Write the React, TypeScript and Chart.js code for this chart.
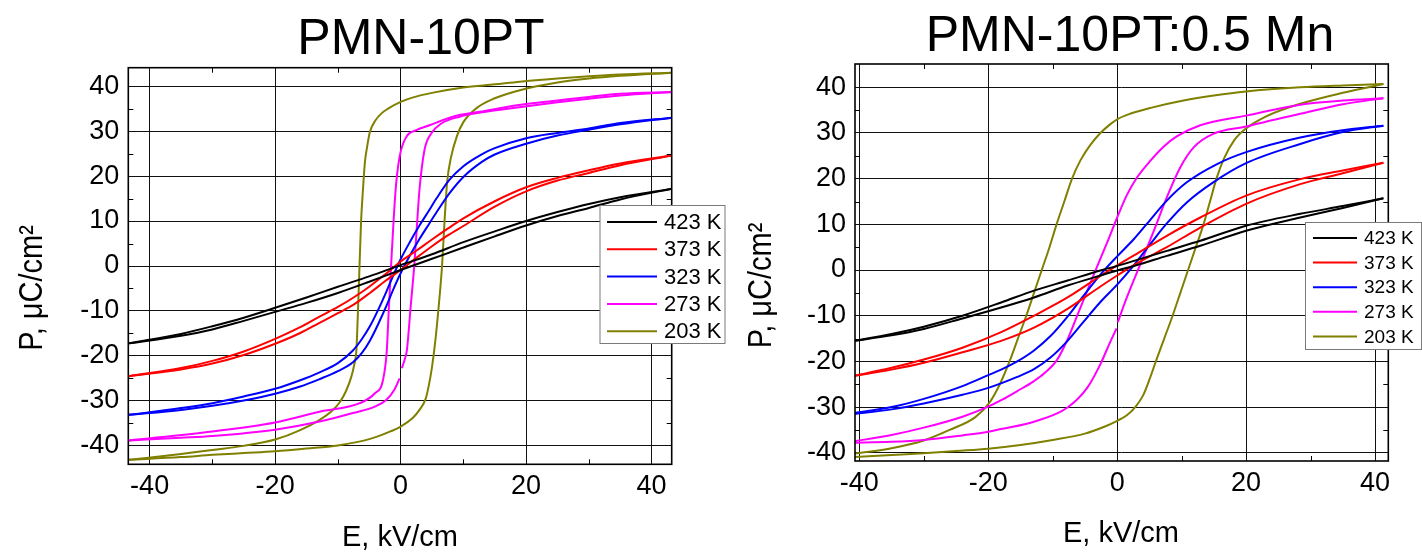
import React, { useEffect, useRef } from "react";
import { Chart, registerables } from "chart.js";

Chart.register(...registerables);

// ---------------- data ----------------
const temperatures = ["423 K", "373 K", "323 K", "273 K", "203 K"];
const loopColors = ["#000000", "#ff0000", "#0000ff", "#ff00ff", "#808000"];

const xTicks = [-40, -20, 0, 20, 40];
const yTicks = [-40, -30, -20, -10, 0, 10, 20, 30, 40];
const xMinorTicks = [-30, -10, 10, 30];
const yMinorTicks = [-35, -25, -15, -5, 5, 15, 25, 35];

type Pt = [number, number | null];

// PMN-10PT: each loop as its falling-field (Down) and rising-field (Up) branch, [E kV/cm, P µC/cm²]
const pmn423Down: Pt[] = [
  [-43.3, -17.2], [-35, -15.1], [-30, -13.4], [-25, -11.5], [-20, -9.3], [-15, -7.0], [-10, -4.6], [-5, -2.3],
  [0, 0.2], [5, 2.6], [10, 5.3], [15, 7.7], [20, 10.0], [25, 12.0], [30, 13.8], [35, 15.3], [43.3, 17.2],
];
const pmn423Up: Pt[] = [
  [-43.3, -17.2], [-35, -15.5], [-30, -14.1], [-25, -12.2], [-20, -10.2], [-15, -8.2], [-10, -6.0], [-5, -3.5],
  [0, -0.9], [5, 1.6], [10, 4.1], [15, 6.6], [20, 9.0], [25, 11.1], [30, 12.9], [35, 14.8], [43.3, 17.2],
];
const pmn373Down: Pt[] = [
  [-43.3, -24.5], [-35, -22.7], [-30, -21.1], [-25, -19.0], [-20, -16.2], [-16, -13.6], [-13, -11.3],
  [-10, -9.1], [-7.5, -7.0], [-5, -4.6], [-2.5, -1.9], [0, 1.0], [2.5, 3.4], [5, 5.9], [7.5, 8.3],
  [10, 10.6], [15, 14.4], [20, 17.5], [25, 19.6], [30, 21.3], [35, 22.8], [43.3, 24.6],
];
const pmn373Up: Pt[] = [
  [-43.3, -24.5], [-35, -23.0], [-30, -21.7], [-25, -19.8], [-20, -17.3], [-16, -14.9], [-13, -12.7],
  [-10, -10.5], [-7.5, -8.6], [-5, -6.1], [-2.5, -3.4], [0, -0.9], [2.5, 1.8], [5, 4.4], [7.5, 6.8],
  [10, 8.9], [15, 13.2], [20, 16.6], [25, 19.0], [30, 20.7], [35, 22.4], [43.3, 24.6],
];
const pmn323Down: Pt[] = [
  [-43.3, -33.1], [-35, -31.6], [-30, -30.5], [-25, -29.0], [-20, -27.3], [-16, -25.4], [-13, -23.7],
  [-10, -21.6], [-7.6, -18.8], [-6.2, -16.3], [-4.9, -13.4], [-3.6, -9.8], [-2.3, -5.8], [-1.2, -2.2],
  [0, 1.5], [1.5, 5.4], [3, 9.0], [4.5, 12.3], [5.7, 15.0], [7.8, 19.2], [10, 22.2], [13, 24.9],
  [15, 26.2], [20, 28.4], [25, 29.6], [30, 30.6], [35, 31.8], [43.3, 33.0],
];
const pmn323Up: Pt[] = [
  [-43.3, -33.1], [-35, -32.0], [-30, -31.1], [-25, -29.9], [-20, -28.4], [-16, -26.8], [-13, -25.2],
  [-10, -23.4], [-7.6, -21.4], [-6.2, -19.4], [-4.9, -16.6], [-3.6, -13.0], [-2.3, -9.0], [-1.2, -5.3],
  [0, -1.6], [1.5, 2.4], [3, 6.0], [4.5, 9.3], [5.7, 11.9], [7.8, 16.2], [10, 19.8], [13, 23.2],
  [15, 24.8], [20, 27.2], [25, 29.0], [30, 30.3], [35, 31.5], [43.3, 33.0],
];
const pmn273Down: Pt[] = [
  [-43.3, -38.8], [-30, -36.8], [-20, -34.8], [-12.9, -32.4], [-6.5, -30.5], [-4.1, -28.3], [-2.8, -25.3],
  [-2.2, -18.7], [-1.9, -10.0], [-1.5, 0.6], [-0.8, 16.9], [-0.16, 24.3], [0.9, 28.7], [2.5, 30.2],
  [4.6, 31.3], [8.3, 33.2], [12.6, 34.3], [18.9, 35.8], [25, 36.8], [30, 37.6], [35, 38.3], [43.3, 38.7],
];
const pmn273Up: Pt[] = [
  [-43.3, -38.8], [-35, -38.2], [-30, -37.8], [-20, -36.4], [-12.9, -34.6], [-7.6, -32.7], [-4, -31.2],
  [-2.3, -29.8], [-1, -27.5], [-0.16, -25.0], [0, null], [0.2, -22.7], [0.6, -21.0], [1.0, -18.7],
  [1.6, -9.0], [2.2, 0.6], [2.6, 9.0], [3.0, 16.9], [3.8, 25.8], [4.9, 29.5], [6.5, 31.7], [9.4, 33.2],
  [13.6, 34.3], [18.9, 35.3], [25, 36.4], [30, 37.2], [35, 37.9], [43.3, 38.7],
];
const pmn203Down: Pt[] = [
  [-43.3, -43.1], [-35, -41.8], [-30, -40.9], [-25, -40.0], [-20, -38.6], [-16, -36.5], [-12.9, -34.2],
  [-11, -32.3], [-9.7, -30.3], [-8.7, -27.8], [-7.85, -24.6], [-7.4, -22.0], [-7.05, -18.7], [-6.85, -12.0],
  [-6.6, -2.0], [-6.3, 10.0], [-6, 17.0], [-5.7, 23.0], [-5.4, 26.0], [-4.9, 29.8], [-4, 32.4], [-3, 34.0],
  [-2, 35.0], [0, 36.5], [2, 37.5], [5, 38.5], [10, 39.7], [15, 40.4], [19, 41.0], [25, 41.7], [30, 42.2],
  [35, 42.6], [43.3, 43.0],
];
const pmn203Up: Pt[] = [
  [-43.3, -43.1], [-35, -42.5], [-30, -42.0], [-25, -41.6], [-20, -41.2], [-15, -40.6], [-10, -39.9],
  [-5, -38.5], [-2, -37.0], [0, -35.7], [2, -33.7], [3, -32.0], [4, -29.5], [4.5, -26.5], [5, -22.5],
  [5.5, -17.0], [6, -10.0], [6.6, 0.0], [7, 10.0], [7.4, 18.5], [8, 24.0], [9, 29.0], [10, 32.0],
  [12, 35.0], [15, 37.3], [19, 39.1], [25, 40.8], [30, 41.7], [35, 42.3], [43.3, 43.0],
];

// PMN-10PT:0.5 Mn
const mn423Down: Pt[] = [
  [-41.3, -15.6], [-35, -14.0], [-30, -12.4], [-24, -10.0], [-18, -7.1], [-12.9, -4.5], [-7.7, -2.3],
  [-2.6, -0.1], [0, 0.9], [2.6, 2.0], [7.7, 4.2], [12.9, 6.4], [20, 9.7], [28.4, 12.3], [35, 14.0], [41.3, 15.7],
];
const mn423Up: Pt[] = [
  [-41.3, -15.6], [-35, -14.3], [-30, -12.9], [-24, -10.6], [-18, -8.2], [-12.9, -6.0], [-7.7, -3.4],
  [-2.6, -1.2], [0, -0.1], [2.6, 0.9], [7.7, 3.1], [12.9, 5.3], [20, 8.6], [28.4, 11.5], [35, 13.6], [41.3, 15.7],
];
const mn373Down: Pt[] = [
  [-41.3, -23.3], [-35, -21.4], [-30, -19.6], [-24, -17.0], [-18, -13.6], [-12.9, -10.0], [-7.7, -6.0],
  [-2.6, -1.3], [0, 1.0], [2.6, 3.2], [7.7, 7.5], [12.9, 11.5], [20, 16.3], [28.4, 19.9], [35, 21.8], [41.3, 23.5],
];
const mn373Up: Pt[] = [
  [-41.3, -23.3], [-35, -21.8], [-30, -20.3], [-24, -18.0], [-18, -15.5], [-12.9, -12.6], [-7.7, -8.5],
  [-2.6, -3.6], [0, -1.2], [2.6, 1.1], [7.7, 5.0], [12.9, 9.3], [20, 14.5], [28.4, 18.8], [35, 21.2], [41.3, 23.5],
];
const mn323Down: Pt[] = [
  [-41.3, -31.4], [-35, -30.0], [-30, -28.2], [-24, -25.4], [-20, -23.0], [-18, -21.8], [-15.5, -20.0],
  [-12.9, -17.6], [-10.3, -14.4], [-7.7, -10.2], [-5.2, -5.6], [-2.6, -1.0], [0, 3.0], [2.6, 6.8],
  [4.6, 10.1], [7.7, 15.2], [10.8, 19.2], [15.5, 23.2], [20, 25.8], [28.4, 29.0], [35, 30.6], [41.3, 31.6],
];
const mn323Up: Pt[] = [
  [-41.3, -31.6], [-35, -30.5], [-30, -29.2], [-24, -27.3], [-20, -25.8], [-15.5, -23.4], [-12.9, -21.7],
  [-10.3, -19.1], [-7.7, -15.5], [-5.2, -11.3], [-2.6, -7.0], [0, -3.2], [2.1, 0.2], [5.2, 5.8], [7.7, 10.2],
  [10.8, 14.8], [14.9, 19.2], [20, 23.4], [28.4, 27.6], [35, 30.2], [41.3, 31.6],
];
const mn273Down: Pt[] = [
  [-41.3, -37.6], [-35, -36.1], [-30, -34.5], [-24, -32.1], [-20, -29.9], [-18, -28.5], [-15.5, -26.5],
  [-12.9, -24.3], [-11.3, -22.6], [-9.3, -19.6], [-7.7, -15.2], [-6.2, -10.0], [-4.6, -4.4], [-3.1, 0.8],
  [-1.5, 6.2], [0, 11.5], [1.5, 16.4], [3.1, 20.3], [5.2, 24.0], [7.2, 27.0], [9.3, 29.3], [12.9, 31.7],
  [20, 33.8], [28.4, 36.2], [35, 37.1], [41.3, 37.6],
];
const mn273Up: Pt[] = [
  [-41.3, -37.8], [-35, -37.6], [-30, -37.2], [-24, -36.2], [-20, -35.4], [-18, -34.8], [-12.9, -33.2],
  [-7.7, -30.1], [-4.6, -25.7], [-2.6, -20.6], [-1, -15.5], [-0.1, -12.8], [0, null], [0.1, -11.4],
  [1.5, -6.0], [3.6, 1.3], [5.7, 8.6], [7.7, 15.9], [9.8, 22.5], [11.9, 26.9], [14.9, 29.8], [20, 31.4],
  [24, 32.8], [28.4, 34.2], [35, 36.3], [41.3, 37.6],
];
const mn203Down: Pt[] = [
  [-41.3, -40.3], [-35, -39.0], [-30, -37.3], [-26, -35.0], [-22, -32.2], [-19.8, -29.0], [-18.2, -25.0],
  [-16.7, -20.0], [-15.4, -15.0], [-14.1, -10.0], [-12.9, -5.0], [-11.7, 0.0], [-10.5, 5.0], [-9.4, 10.0],
  [-8.2, 15.0], [-7, 20.0], [-5.7, 24.0], [-4.1, 27.5], [-2.6, 30.0], [-1, 32.0], [0, 33.0], [2, 34.2],
  [5.2, 35.5], [10.3, 37.1], [15, 38.2], [20, 39.1], [28.4, 40.0], [35, 40.4], [41.3, 40.7],
];
const mn203Up: Pt[] = [
  [-41.3, -41.0], [-35, -40.5], [-30, -40.1], [-25, -39.6], [-20, -39.1], [-15, -38.3], [-10, -37.2],
  [-5, -35.8], [-2, -34.3], [0, -33.0], [1.5, -31.8], [2.8, -30.0], [4.0, -27.5], [5.0, -24.0], [6.0, -20.0],
  [7.3, -15.0], [8.6, -10.0], [9.8, -5.0], [11.0, 0.0], [12.2, 5.0], [13.4, 10.0], [14.4, 15.0], [15.4, 20.0],
  [16.6, 24.5], [18.2, 28.5], [20, 31.0], [23.2, 33.7], [28.4, 36.4], [35, 38.8], [41.3, 40.7],
];

// ---------------- layout ----------------
const FONT = '"Liberation Sans", Arial, Helvetica, sans-serif';

interface PanelSpec {
  title: string;
  loops: [Pt[], Pt[]][];
  offsetX: number;
  width: number;
  height: number;
  xRange: [number, number];
  yRange: [number, number];
  area: { left: number; right: number; top: number; bottom: number };
  titlePos: [number, number];
  xTitlePos: [number, number];
  yTitlePos: [number, number];
  legend: {
    x: number; y: number; w: number; h: number;
    row0: number; rowStep: number; line0: number; line1: number; textX: number; fontSize: number;
  };
}

const panels: PanelSpec[] = [
  {
    title: "PMN-10PT",
    loops: [
      [pmn423Down, pmn423Up],
      [pmn373Down, pmn373Up],
      [pmn323Down, pmn323Up],
      [pmn273Down, pmn273Up],
      [pmn203Down, pmn203Up],
    ],
    offsetX: 0,
    width: 730,
    height: 554,
    xRange: [-43.4, 43.2],
    yRange: [-44.1, 44.1],
    area: { left: 128.3, right: 671.7, top: 67.7, bottom: 464.3 },
    titlePos: [421, 54],
    xTitlePos: [400, 546],
    yTitlePos: [42, 288],
    legend: { x: 600, y: 205.5, w: 125, h: 138, row0: 222, rowStep: 27.3, line0: 607, line1: 657, textX: 664, fontSize: 22 },
  },
  {
    title: "PMN-10PT:0.5 Mn",
    loops: [
      [mn423Down, mn423Up],
      [mn373Down, mn373Up],
      [mn323Down, mn323Up],
      [mn273Down, mn273Up],
      [mn203Down, mn203Up],
    ],
    offsetX: 730,
    width: 692,
    height: 554,
    xRange: [-40.67, 42.06],
    yRange: [-41.8, 45.1],
    area: { left: 125, right: 658.3, top: 64, bottom: 461 },
    titlePos: [400, 51],
    xTitlePos: [391, 542],
    yTitlePos: [41, 285.5],
    legend: { x: 575.5, y: 222.5, w: 116, h: 127, row0: 238, rowStep: 24.6, line0: 583, line1: 627, textX: 634, fontSize: 19 },
  },
];

function Panel({ spec }: { spec: PanelSpec }) {
  const ref = useRef<HTMLCanvasElement | null>(null);

  useEffect(() => {
    const canvas = ref.current;
    if (!canvas) return;
    const a = spec.area;

    const decorations = {
      id: "decorations",
      afterDatasetsDraw(chart: any) {
        const { ctx, chartArea: ca, scales } = chart;
        ctx.save();
        ctx.strokeStyle = "#000";
        ctx.lineWidth = 1;
        ctx.beginPath();
        xMinorTicks.forEach((v) => {
          const px = Math.round(scales.x.getPixelForValue(v)) + 0.5;
          ctx.moveTo(px, ca.bottom);
          ctx.lineTo(px, ca.bottom - 5);
          ctx.moveTo(px, ca.top);
          ctx.lineTo(px, ca.top + 5);
        });
        yMinorTicks.forEach((v) => {
          const py = Math.round(scales.y.getPixelForValue(v)) + 0.5;
          ctx.moveTo(ca.left, py);
          ctx.lineTo(ca.left + 5, py);
          ctx.moveTo(ca.right, py);
          ctx.lineTo(ca.right - 5, py);
        });
        ctx.stroke();
        ctx.lineWidth = 1.6;
        ctx.strokeRect(ca.left, ca.top, ca.right - ca.left, ca.bottom - ca.top);
        ctx.restore();
      },
      afterDraw(chart: any) {
        const ctx = chart.ctx as CanvasRenderingContext2D;
        ctx.save();
        ctx.fillStyle = "#000";
        ctx.font = `50px ${FONT}`;
        ctx.textAlign = "center";
        ctx.textBaseline = "alphabetic";
        ctx.fillText(spec.title, spec.titlePos[0], spec.titlePos[1]);
        ctx.font = `29px ${FONT}`;
        ctx.fillText("E, kV/cm", spec.xTitlePos[0], spec.xTitlePos[1]);
        ctx.save();
        ctx.translate(spec.yTitlePos[0], spec.yTitlePos[1]);
        ctx.rotate(-Math.PI / 2);
        ctx.scale(1, 1.15);
        ctx.fillText("P, \u03bcC/cm\u00b2", 0, 0);
        ctx.restore();
        // legend
        const L = spec.legend;
        ctx.fillStyle = "#fff";
        ctx.fillRect(L.x, L.y, L.w, L.h);
        ctx.strokeStyle = "#7a7a7a";
        ctx.lineWidth = 1;
        ctx.strokeRect(L.x, L.y, L.w, L.h);
        ctx.font = `${L.fontSize}px ${FONT}`;
        ctx.textAlign = "left";
        ctx.textBaseline = "middle";
        temperatures.forEach((label, i) => {
          const y = L.row0 + i * L.rowStep;
          ctx.strokeStyle = loopColors[i];
          ctx.lineWidth = 2;
          ctx.beginPath();
          ctx.moveTo(L.line0, y);
          ctx.lineTo(L.line1, y);
          ctx.stroke();
          ctx.fillStyle = "#000";
          ctx.fillText(label, L.textX, y + 1);
        });
        ctx.restore();
      },
    };

    const tickFont = { family: FONT, size: 27 };
    const datasets: any[] = [];
    spec.loops.forEach((branches, i) => {
      branches.forEach((branch, j) => {
        datasets.push({
          label: `${temperatures[i]} ${j === 0 ? "down" : "up"}`,
          data: branch.map(([x, y]) => ({ x, y })),
          showLine: true,
          spanGaps: false,
          borderColor: loopColors[i],
          backgroundColor: loopColors[i],
          borderWidth: 2,
          pointRadius: 0,
          pointHoverRadius: 0,
          cubicInterpolationMode: "monotone",
          fill: false,
          clip: 0,
        });
      });
    });

    const chart = new Chart(canvas, {
      type: "scatter",
      data: { datasets },
      options: {
        responsive: false,
        animation: false,
        events: [],
        layout: { padding: { top: a.top, right: spec.width - a.right, left: 0, bottom: 0 } },
        plugins: {
          legend: { display: false },
          tooltip: { enabled: false },
          title: { display: false },
        },
        scales: {
          x: {
            type: "linear",
            min: spec.xRange[0],
            max: spec.xRange[1],
            afterBuildTicks: (s: any) => {
              s.ticks = xTicks.map((v) => ({ value: v }));
            },
            afterFit: (s: any) => {
              s.height = spec.height - a.bottom;
            },
            grid: { color: "#111", lineWidth: 1, drawTicks: false },
            border: { display: false },
            ticks: { font: tickFont, color: "#000", padding: 6, maxRotation: 0, autoSkip: false },
          },
          y: {
            type: "linear",
            min: spec.yRange[0],
            max: spec.yRange[1],
            afterBuildTicks: (s: any) => {
              s.ticks = yTicks.map((v) => ({ value: v }));
            },
            afterFit: (s: any) => {
              s.width = a.left;
            },
            grid: { color: "#111", lineWidth: 1, drawTicks: false },
            border: { display: false },
            ticks: { font: tickFont, color: "#000", padding: 9, autoSkip: false },
          },
        },
      },
      plugins: [decorations],
    } as any);

    return () => chart.destroy();
  }, [spec]);

  return (
    <canvas
      ref={ref}
      width={spec.width}
      height={spec.height}
      style={{ position: "absolute", left: spec.offsetX, top: 0, width: spec.width, height: spec.height }}
    />
  );
}

export default function App() {
  return (
    <div style={{ position: "fixed", left: 0, top: 0, width: 1422, height: 554, background: "#fff", overflow: "hidden" }}>
      {panels.map((p) => (
        <Panel key={p.title} spec={p} />
      ))}
    </div>
  );
}
